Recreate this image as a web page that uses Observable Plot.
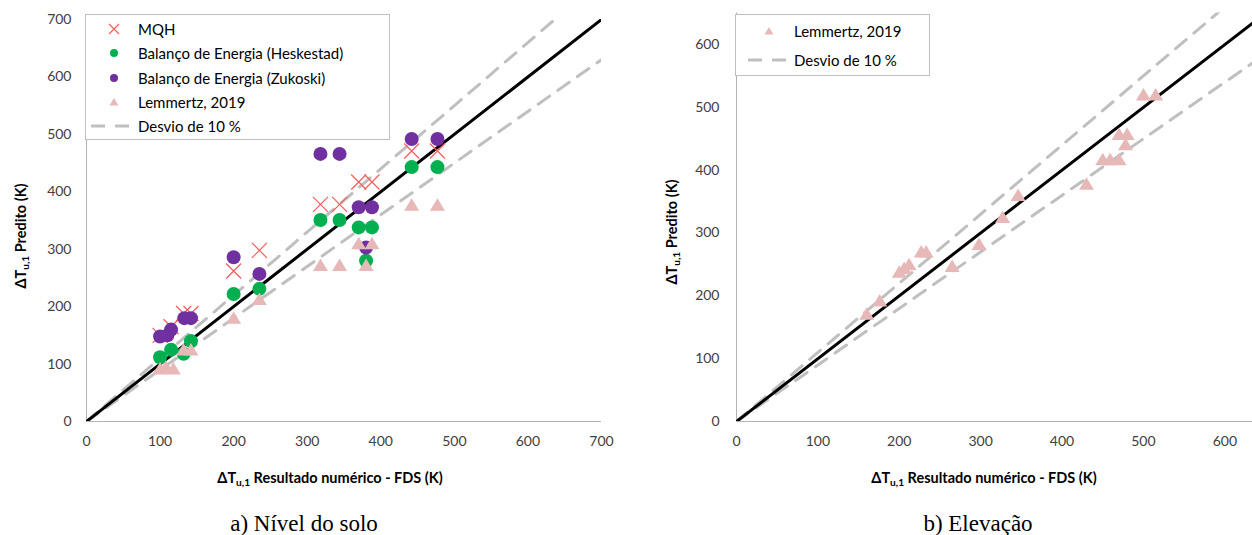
<!DOCTYPE html>
<html><head><meta charset="utf-8">
<script src="https://cdn.jsdelivr.net/npm/d3@7"></script>
<script src="https://cdn.jsdelivr.net/npm/@observablehq/plot@0.6"></script>
<style>
body{margin:0;background:#fff;width:1252px;height:535px;position:relative;overflow:hidden;font-family:Lato,sans-serif;}
.abs{position:absolute;white-space:nowrap;}
.title{font-weight:bold;font-size:14.5px;color:#000;line-height:1;}
.title sub{font-size:70%;vertical-align:-0.3em;line-height:0;}
.cap{font-family:"Liberation Serif","Times New Roman",serif;font-size:23px;color:#000;line-height:1;}
.leg{position:absolute;border:1px solid #bfbfbf;background:#fff;box-sizing:border-box;}
.legtxt{position:absolute;font-size:15px;color:#000;line-height:1;white-space:nowrap;}
</style></head><body>
<div id="left" class="abs" style="left:0;top:0"></div>
<div id="right" class="abs" style="left:626px;top:0"></div>
<script>
// ---- data (ΔT_u,1 FDS vs predicted, K) ----
const ticksA = [0,100,200,300,400,500,600,700];
const ticksB = [0,100,200,300,400,500,600];
const seriesNames = ["MQH","Balanço de Energia (Heskestad)","Balanço de Energia (Zukoski)","Lemmertz, 2019","Desvio de 10 %"];

const mqhX  = [100,115,132,142,200,235,318,344,370,388,442,477];
const mqhY  = [150,165,188,188,262,298,378,378,417,417,471,471];
const heskX = [100,115,132,142,200,235,318,344,370,380,388,442,477];
const heskY = [112,125,118,140,222,231,351,351,338,280,338,443,443];
const zukX  = [100,110,115,133,142,200,235,318,344,370,380,388,442,477];
const zukY  = [148,150,160,180,180,286,257,466,466,373,303,373,492,492];
const lemAX = [100,108,118,132,142,200,235,318,344,370,380,388,442,477];
const lemAY = [92,95,92,125,125,180,213,272,272,310,272,310,377,377];
const lemBX = [160,176,200,206,212,227,233,265,298,327,346,430,450,459,470,470,480,478,500,515];
const lemBY = [171,192,238,244,250,270,270,247,282,325,360,378,417,417,417,457,457,441,520,520];
const ratios = [1, 1.1, 0.9];

// ---- styles ----
const C = {mqh:"#ff5b5b", hesk:"#00b050", zuk:"#7030a0", lem:"#e6b9b8", dev:"#bfbfbf", axis:"#b3b3b3"};

const symX = {draw(ctx, size){const r=Math.sqrt(size/Math.PI); ctx.moveTo(-r,-r); ctx.lineTo(r,r); ctx.moveTo(r,-r); ctx.lineTo(-r,r);}};
const symTri = {draw(ctx, size){const r=Math.sqrt(size/Math.PI); const h=r*0.9; ctx.moveTo(0,-h); ctx.lineTo(r,h*0.85); ctx.lineTo(-r,h*0.85); ctx.closePath();}};

const pts = (xs, ys) => xs.map((x,i)=>({x, y:ys[i]}));
const refLine = (k, max) => [0, max].map(x=>({x, y:k*x}));

function refMarks(max){
  return [
    Plot.line(refLine(ratios[1], max*1.2), {x:"x", y:"y", stroke:C.dev, strokeWidth:3, strokeDasharray:"14,10", clip:true}),
    Plot.line(refLine(ratios[2], max*1.2), {x:"x", y:"y", stroke:C.dev, strokeWidth:3, strokeDasharray:"14,10", clip:true}),
    Plot.line(refLine(ratios[0], max*1.2), {x:"x", y:"y", stroke:"#000", strokeWidth:3, clip:true}),
  ];
}
const axisMarks = () => [Plot.ruleX([0], {stroke:C.axis, strokeWidth:1}), Plot.ruleY([0], {stroke:C.axis, strokeWidth:1})];
const baseStyle = {fontFamily:"Lato, sans-serif", fontSize:"14px", color:"#404040", background:"transparent", overflow:"visible"};

const left = Plot.plot({
  width:620, height:460, marginLeft:86, marginRight:19, marginTop:19, marginBottom:39,
  style: baseStyle,
  x:{domain:[0,700], ticks:ticksA, tickSize:0, tickPadding:15, label:null, tickFormat:d=>String(d)},
  y:{domain:[0,700], ticks:ticksA, tickSize:0, tickPadding:15, label:null, tickFormat:d=>String(d)},
  marks:[
    ...axisMarks(),
    ...refMarks(700),
    Plot.dot(pts(mqhX,mqhY), {x:"x", y:"y", r:7.5, symbol:symX, fill:"none", stroke:C.mqh, strokeWidth:1.2}),
    Plot.dot(pts(heskX,heskY), {x:"x", y:"y", r:7, fill:C.hesk, stroke:"none"}),
    Plot.dot(pts(zukX,zukY), {x:"x", y:"y", r:7, fill:C.zuk, stroke:"none"}),
    Plot.dot(pts(lemAX,lemAY), {x:"x", y:"y", r:7.5, symbol:symTri, fill:C.lem, stroke:"none"}),
  ]
});
document.getElementById("left").appendChild(left);

const right = Plot.plot({
  width:626, height:460, marginLeft:110, marginRight:0, marginTop:12.6, marginBottom:39,
  style: baseStyle,
  x:{domain:[0,634], ticks:ticksB, tickSize:0, tickPadding:15, label:null, tickFormat:d=>String(d)},
  y:{domain:[0,650], ticks:ticksB, tickSize:0, tickPadding:17, label:null, tickFormat:d=>String(d)},
  marks:[
    ...axisMarks(),
    ...refMarks(650),
    Plot.dot(pts(lemBX,lemBY), {x:"x", y:"y", r:7.5, symbol:symTri, fill:C.lem, stroke:"none"}),
  ]
});
document.getElementById("right").appendChild(right);

// ---- titles & captions ----
function addDiv(html, cls, x, y, rot){
  const d = document.createElement("div");
  d.className = "abs " + cls;
  d.innerHTML = html;
  d.style.left = x + "px"; d.style.top = y + "px";
  d.style.transform = "translate(-50%,-50%)" + (rot ? " rotate(-90deg)" : "");
  document.body.appendChild(d);
}
const dT = "ΔT<sub>u,1</sub>";
addDiv(dT + " Resultado numérico - FDS (K)", "title", 330, 478);
addDiv(dT + " Resultado numérico - FDS (K)", "title", 984, 478);
addDiv(dT + " Predito (K)", "title", 21, 236, true);
addDiv(dT + " Predito (K)", "title", 672, 232, true);
addDiv("a) Nível do solo", "cap", 304, 523);
addDiv("b) Elevação", "cap", 978, 523);

// ---- legends ----
function legend(x, y, w, h, entries){
  const box = document.createElement("div");
  box.className = "leg";
  Object.assign(box.style, {left:x+"px", top:y+"px", width:w+"px", height:h+"px"});
  document.body.appendChild(box);
  entries.forEach(e=>{
    const svg = d3.create("svg").attr("width",44).attr("height",20)
      .style("position","absolute").style("left",(e.mx-22-x)+"px").style("top",(e.y-10-y)+"px").style("overflow","visible");
    const g = svg.append("g").attr("transform","translate(22,10)");
    if (e.kind==="x") g.append("path").attr("d","M-5,-5L5,5M5,-5L-5,5").attr("stroke",C.mqh).attr("stroke-width",1.2).attr("fill","none");
    if (e.kind==="dot") g.append("circle").attr("r",4).attr("fill",e.color);
    if (e.kind==="tri") g.append("path").attr("d","M0,-4L4.5,3.5L-4.5,3.5Z").attr("fill",C.lem);
    if (e.kind==="dash") g.append("path").attr("d","M-19,0H19").attr("stroke",C.dev).attr("stroke-width",3).attr("stroke-dasharray","14,10");
    box.appendChild(svg.node());
    const t = document.createElement("div");
    t.className = "legtxt"; t.textContent = e.label;
    Object.assign(t.style, {left:(e.tx-x)+"px", top:(e.y-y)+"px", transform:"translateY(-50%)"});
    box.appendChild(t);
  });
}
legend(85, 14, 305, 126, [
  {kind:"x", label:seriesNames[0], mx:113, tx:137, y:28},
  {kind:"dot", color:C.hesk, label:seriesNames[1], mx:113, tx:137, y:52},
  {kind:"dot", color:C.zuk, label:seriesNames[2], mx:113, tx:137, y:77},
  {kind:"tri", label:seriesNames[3], mx:113, tx:137, y:101},
  {kind:"dash", label:seriesNames[4], mx:109, tx:137, y:125},
]);
legend(735, 14, 195, 62, [
  {kind:"tri", label:seriesNames[3], mx:768, tx:793, y:30},
  {kind:"dash", label:seriesNames[4], mx:766, tx:793, y:59},
]);
</script>
</body></html>
